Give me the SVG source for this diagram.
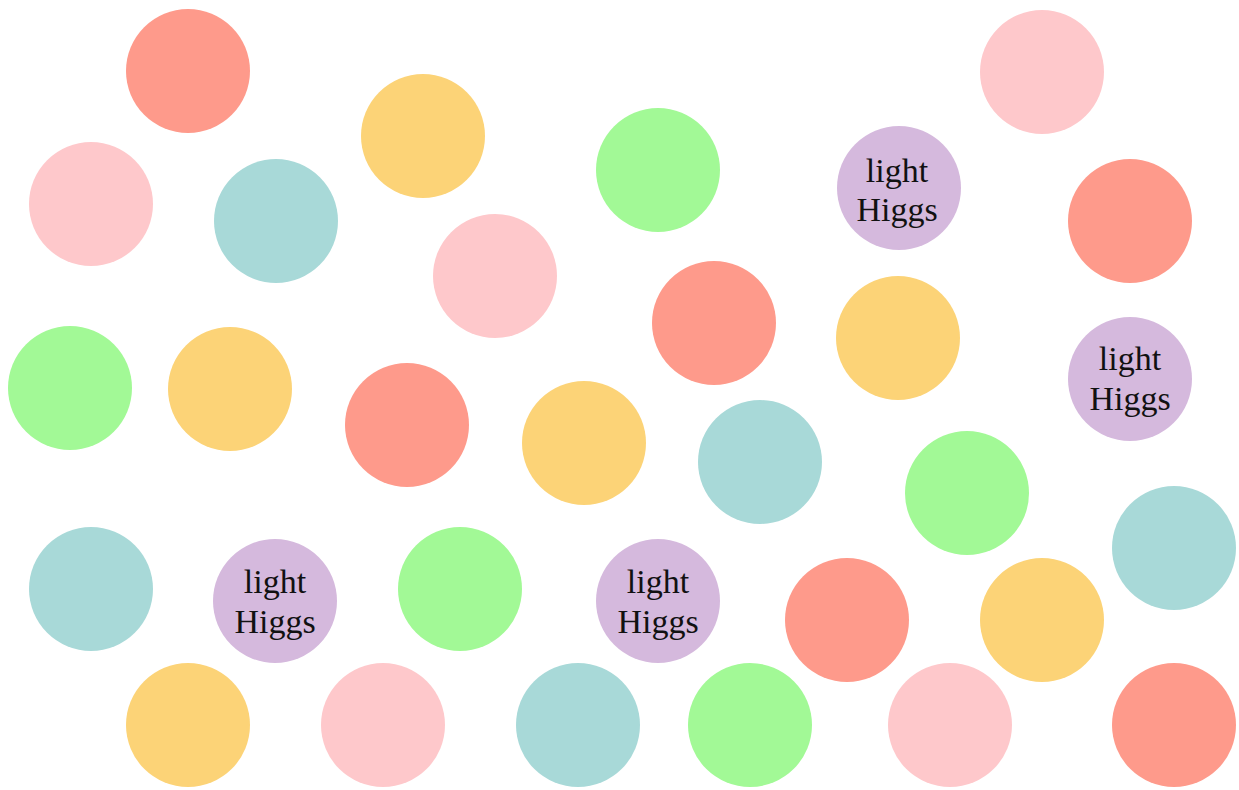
<svg xmlns="http://www.w3.org/2000/svg" width="1239" height="790" viewBox="0 0 1239 790">
<style>
circle{stroke:none}
.r{fill:#FE9A8B}.p{fill:#FEC8CB}.o{fill:#FCD377}.g{fill:#A2F996}.t{fill:#A8D9D8}.h{fill:#D5B9DD}
text{font-family:"Liberation Serif","Times New Roman",serif;font-size:34px;fill:#111;text-anchor:middle}
</style>
<rect width="1239" height="790" fill="#fff"/>
<g id="n1"><circle class="r" cx="188" cy="71" r="62"/></g>
<g id="n2"><circle class="p" cx="1042" cy="72" r="62"/></g>
<g id="n3"><circle class="o" cx="423" cy="136" r="62"/></g>
<g id="n4"><circle class="g" cx="658" cy="170" r="62"/></g>
<g id="n5"><circle class="h" cx="899" cy="188" r="62"/><text x="897" y="182">light</text><text x="897" y="221">Higgs</text></g>
<g id="n6"><circle class="p" cx="91" cy="204" r="62"/></g>
<g id="n7"><circle class="t" cx="276" cy="221" r="62"/></g>
<g id="n8"><circle class="r" cx="1130" cy="221" r="62"/></g>
<g id="n9"><circle class="p" cx="495" cy="276" r="62"/></g>
<g id="n10"><circle class="r" cx="714" cy="323" r="62"/></g>
<g id="n11"><circle class="o" cx="898" cy="338" r="62"/></g>
<g id="n12"><circle class="g" cx="70" cy="388" r="62"/></g>
<g id="n13"><circle class="o" cx="230" cy="389" r="62"/></g>
<g id="n14"><circle class="h" cx="1130" cy="379" r="62"/><text x="1130" y="370">light</text><text x="1130" y="410">Higgs</text></g>
<g id="n15"><circle class="r" cx="407" cy="425" r="62"/></g>
<g id="n16"><circle class="o" cx="584" cy="443" r="62"/></g>
<g id="n17"><circle class="t" cx="760" cy="462" r="62"/></g>
<g id="n18"><circle class="g" cx="967" cy="493" r="62"/></g>
<g id="n19"><circle class="t" cx="1174" cy="548" r="62"/></g>
<g id="n20"><circle class="t" cx="91" cy="589" r="62"/></g>
<g id="n21"><circle class="h" cx="275" cy="601" r="62"/><text x="275" y="593">light</text><text x="275" y="633">Higgs</text></g>
<g id="n22"><circle class="g" cx="460" cy="589" r="62"/></g>
<g id="n23"><circle class="h" cx="658" cy="601" r="62"/><text x="658" y="593">light</text><text x="658" y="633">Higgs</text></g>
<g id="n24"><circle class="r" cx="847" cy="620" r="62"/></g>
<g id="n25"><circle class="o" cx="1042" cy="620" r="62"/></g>
<g id="n26"><circle class="o" cx="188" cy="725" r="62"/></g>
<g id="n27"><circle class="p" cx="383" cy="725" r="62"/></g>
<g id="n28"><circle class="t" cx="578" cy="725" r="62"/></g>
<g id="n29"><circle class="g" cx="750" cy="725" r="62"/></g>
<g id="n30"><circle class="p" cx="950" cy="725" r="62"/></g>
<g id="n31"><circle class="r" cx="1174" cy="725" r="62"/></g>
<g id="connectors"></g>
</svg>
